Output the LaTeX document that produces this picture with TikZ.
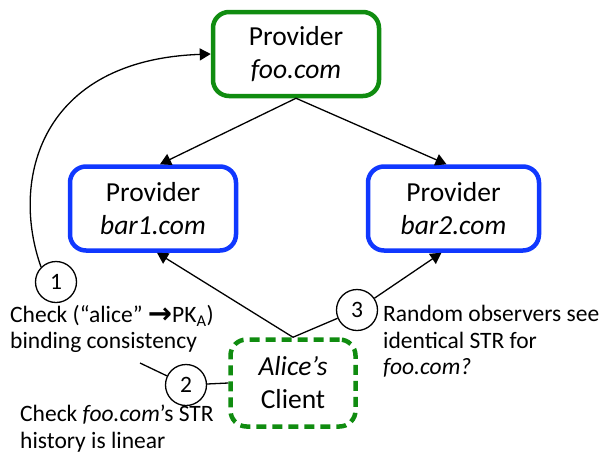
\documentclass[tikz,border=0pt]{standalone}
\usepackage{fontspec}
\setmainfont{Carlito}
\newfontfamily\symfont{DejaVu Sans}
\usetikzlibrary{arrows.meta}
\definecolor{provgreen}{RGB}{16,140,16}
\definecolor{provblue}{RGB}{16,56,255}
\begin{document}
\begin{tikzpicture}[x=1pt,y=-1pt,
  box/.style={line width=4.5pt,rounded corners=16pt,minimum height=84pt,
    align=center,inner sep=0pt,font=\fontsize{27.5}{33}\selectfont},
  greenbox/.style={box,draw=provgreen},
  bluebox/.style={box,draw=provblue},
  conn/.style={line width=1.3pt,-{Triangle[length=11pt,width=12pt]}},
  plain/.style={line width=1.3pt},
  numcirc/.style={draw,circle,line width=1.3pt,fill=white,minimum size=41pt,
    inner sep=0pt,font=\fontsize{23.5}{26}\selectfont},
  note/.style={align=left,inner sep=0pt,anchor=north west,
    font=\fontsize{23.5}{26.5}\selectfont}
]
\useasboundingbox (0,0) rectangle (605,453);

% providers
\node[greenbox,minimum width=166pt] (foo) at (296,54) {Provider\\\textit{foo.com}};
\node[bluebox,minimum width=166pt] (bar1) at (153,208.5) {Provider\\\textit{bar1.com}};
\node[bluebox,minimum width=171pt] (bar2) at (453.5,208.5) {Provider\\\textit{bar2.com}};

% client
\node[box,draw=provgreen,dash pattern=on 10pt off 6pt,minimum width=125pt,minimum height=87pt]
  (alice) at (293,383) {\textit{Alice’s}\\Client};

% numbered checks
\node[numcirc] (c1) at (56,282) {1};
\node[numcirc] (c2) at (186,385) {2};
\node[numcirc] (c3) at (357,310) {3};
\coordinate (c2end) at (140,363);

% notes
\node[note] (t1) at (10,305) {Check (“alice” \raisebox{-1pt}{\symfont\bfseries\fontsize{29}{29}\selectfont →}PK\textsubscript{A})\\binding consistency};
\node[note] (t2) at (20,405) {Check \textit{foo.com}’s STR\\history is linear};
\node[note] (t3) at (383,305) {Random observers see\\identical STR for\\\textit{foo.com?}};

% connectors
\draw[conn] (foo.south) -- ([xshift=7pt]bar1.north);
\draw[conn] (foo.south) -- ([xshift=-7pt]bar2.north);
\draw[conn] (alice.north) -- ([xshift=4pt]bar1.south);
\draw[plain] (alice.north) -- (c3);
\draw[conn] (c3) -- ([xshift=-12pt]bar2.south);
\draw[plain] (c2) -- (alice.west);
\draw[plain] (c2) -- (c2end);
\draw[conn] (c1.135) .. controls (10,180) and (40,60) .. (foo.west);
\end{tikzpicture}
\end{document}
